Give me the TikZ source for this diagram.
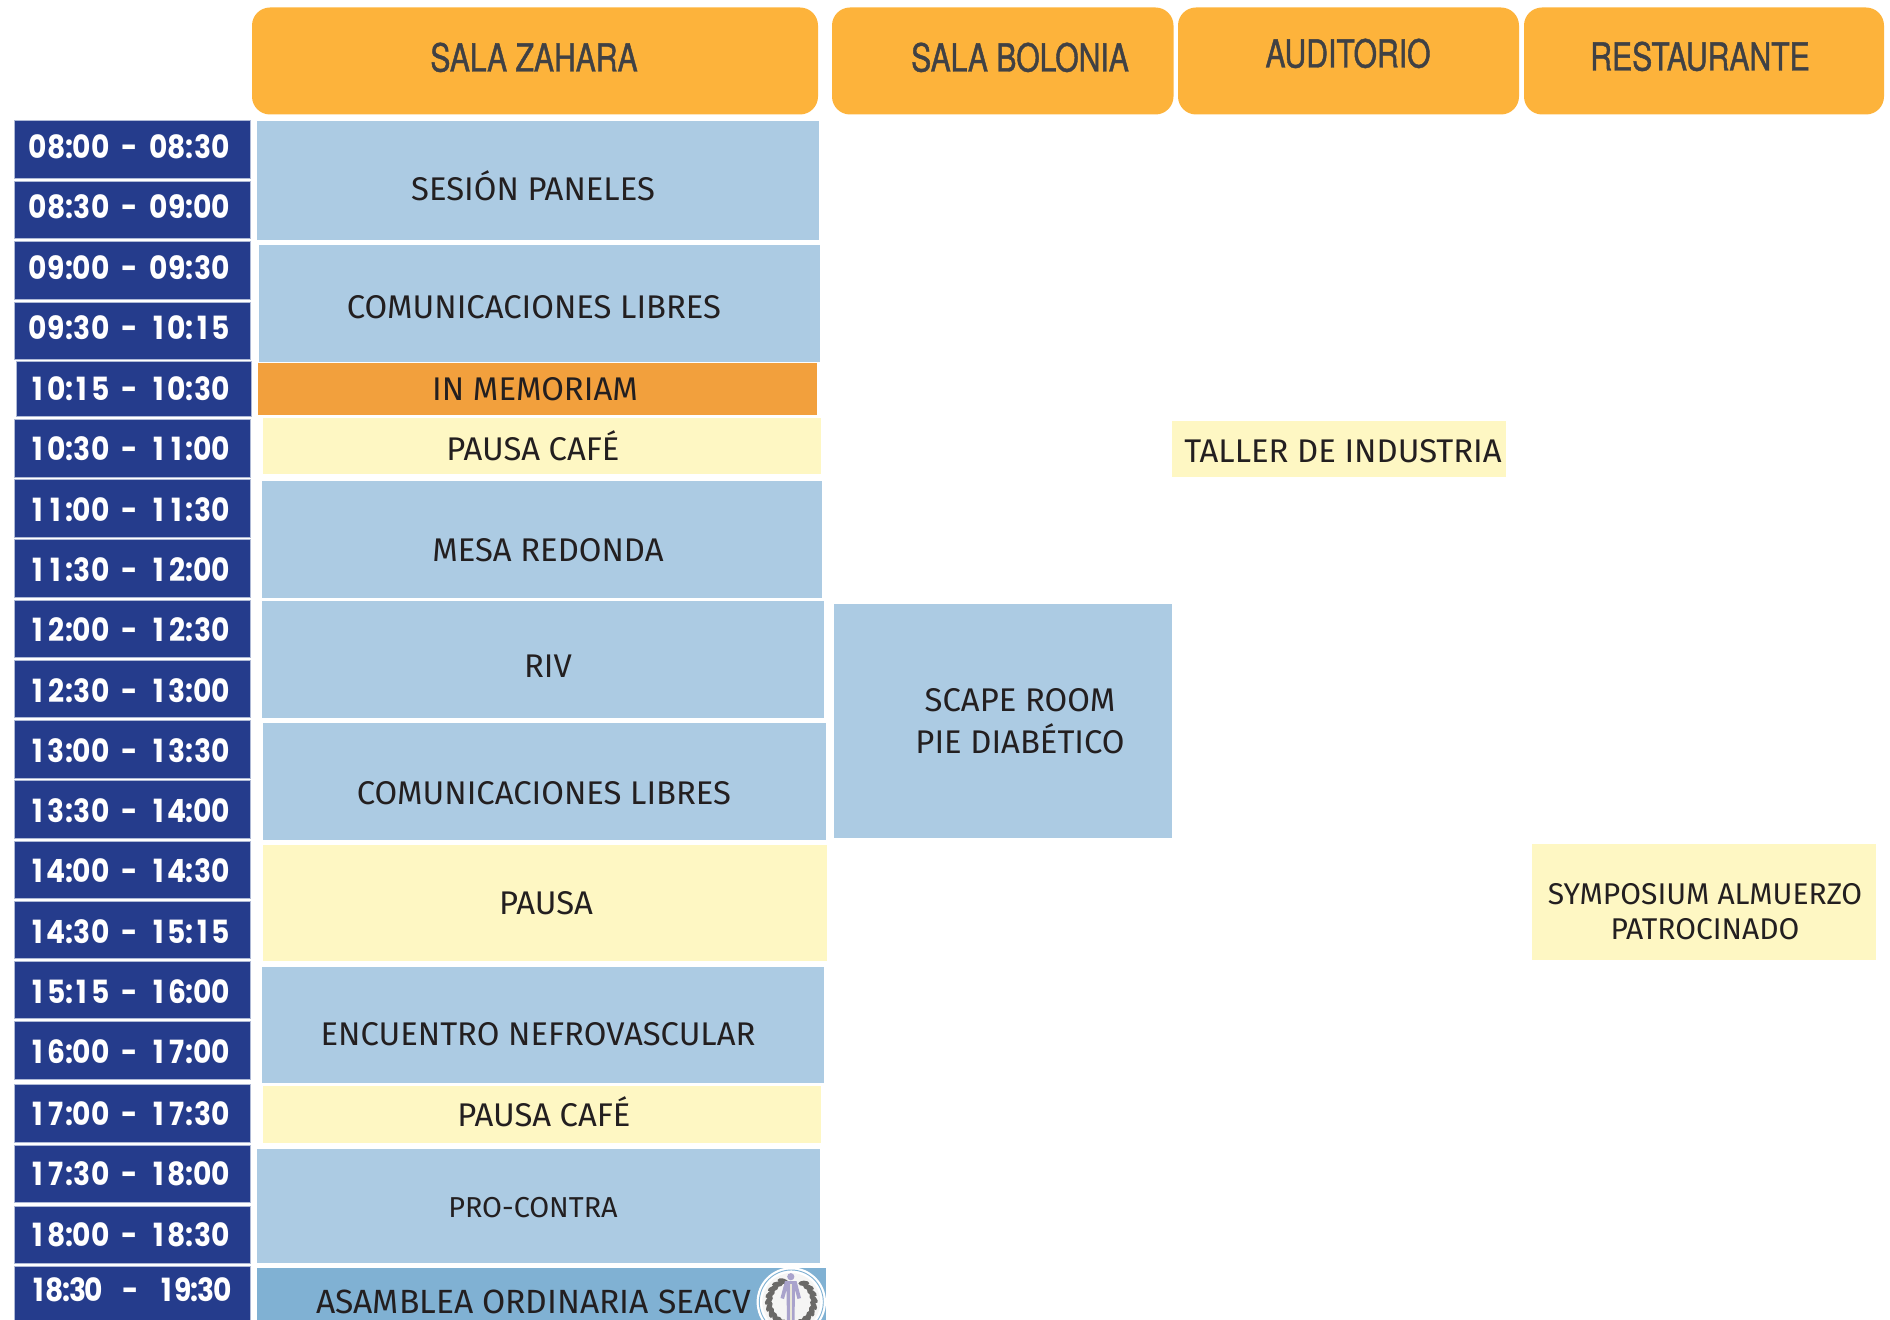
\documentclass[tikz,border=0pt]{standalone}
\usepackage{fontspec}
\setmainfont{Fira Sans}
\newfontfamily\hdfont[FakeStretch=0.78,FakeBold=1.1]{TeX Gyre Heros}
\newfontfamily\tmfont[FakeStretch=0.88,UprightFont=* Bold]{Poppins}
\definecolor{hdfill}{HTML}{FDB33B}
\definecolor{hdtext}{HTML}{404144}
\definecolor{tmfill}{HTML}{253C8C}
\definecolor{tmedge}{HTML}{AEB9D6}
\definecolor{bluefill}{HTML}{ACCBE3}
\definecolor{orangefill}{HTML}{F2A03D}
\definecolor{yellowfill}{HTML}{FEF7C3}
\definecolor{darkblue}{HTML}{80B1D3}
\definecolor{inktext}{HTML}{231F20}
\definecolor{leafgray}{HTML}{6A6967}
\definecolor{figlilac}{HTML}{A9A3CC}
\definecolor{figpale}{HTML}{E8E6D8}
\tikzset{
  boxbase/.style={inner sep=0pt,outer sep=0pt,anchor=north west},
  headbox/.style={boxbase,fill=hdfill,rounded corners=9pt},
  timebox/.style={boxbase,fill=tmfill,draw=tmedge,line width=.3pt},
  blueblock/.style={boxbase,fill=bluefill},
  orangeblock/.style={boxbase,fill=orangefill},
  yellowblock/.style={boxbase,fill=yellowfill},
  darkblock/.style={boxbase,fill=darkblue},
  headtext/.style={anchor=base,yshift=-6.75pt,text=hdtext,font=\hdfont\fontsize{19.3}{22}\selectfont,inner sep=0pt},
  labeltext/.style={anchor=base,yshift=-6.1pt,text=inktext,font=\fontsize{16.4}{19}\selectfont,inner sep=0pt},
  widetext/.style={labeltext,font=\fontsize{16.8}{19}\selectfont},
  smalltext/.style={anchor=base,yshift=-5pt,text=inktext,font=\fontsize{14.4}{17}\selectfont,inner sep=0pt},
  sympotext/.style={smalltext,font=\fontsize{15}{17}\selectfont},
  timetext/.style={anchor=base,yshift=-6.3pt,text=white,font=\tmfont\fontsize{16}{18}\selectfont,inner sep=0pt},
}
% name, x1, y1, x2, y2, style
\newcommand{\areabox}[6]{%
  \pgfmathsetmacro{\bw}{(#4-#2)*0.5}%
  \pgfmathsetmacro{\bh}{(#5-#3)*0.5}%
  \node[#6,minimum width=\bw pt,minimum height=\bh pt] (#1) at (#2,#3) {};}
% fixed-width digits for the time column
\newlength{\dgw}
\newcommand{\dg}[1]{\makebox[\dgw][c]{#1}}
\def\hhmm#1#2:#3#4!{\dg{#1}\dg{#2}\makebox[3.6pt][c]{:}\dg{#3}\dg{#4}}
\newcommand{\timerange}[3]{\setlength{\dgw}{#3}\expandafter\hhmm#1!\makebox[20pt][c]{-}\expandafter\hhmm#2!}
\begin{document}
\begin{tikzpicture}[x=0.5pt,y=-0.5pt]
\useasboundingbox (0,0) rectangle (1890,1320);
% headers
\areabox{hzahara}{252}{7.5}{818}{114.5}{headbox}
\areabox{hbolonia}{832}{7.5}{1173.5}{114.5}{headbox}
\areabox{hauditorio}{1178}{7.5}{1519}{114.5}{headbox}
\areabox{hrestaurante}{1524}{7.5}{1884}{114.5}{headbox}
\node[headtext] (tzahara) at (534,58) {SALA ZAHARA};
\node[headtext] (tbolonia) at (1020,58) {SALA BOLONIA};
\node[headtext] (tauditorio) at (1348,54) {AUDITORIO};
\node[headtext] (trestaurante) at (1700,57) {RESTAURANTE};
% time column: index/start/end/top/text centre/height/x offset
\foreach \i/\ta/\tb/\ty/\tc/\hh/\xo in {
  0/08:00/08:30/120.7/146/57.3/0,
  1/08:30/09:00/181/206/57.3/0,
  2/09:00/09:30/241.7/266.5/57.6/0,
  3/09:30/10:15/302.3/327/57.4/0,
  4/10:15/10:30/361.3/387.5/55/1.7,
  5/10:30/11:00/419.3/448/57.7/0,
  6/11:00/11:30/479.5/509/57.5/0,
  7/11:30/12:00/539.7/569/57.5/0,
  8/12:00/12:30/600/629/57.5/0,
  9/12:30/13:00/660.2/689.5/57.5/0,
  10/13:00/13:30/720.4/750/57.5/0,
  11/13:30/14:00/780.6/810/57.5/0,
  12/14:00/14:30/840.8/870/57.5/0,
  13/14:30/15:15/901/930.6/57.5/0,
  14/15:15/16:00/961.2/991/57.5/0,
  15/16:00/17:00/1021.3/1051/57.5/0,
  16/17:00/17:30/1084.5/1112.6/57.5/0,
  17/17:30/18:00/1145.7/1172.5/56.6/0,
  18/18:00/18:30/1206/1233.5/57/0}{
  \pgfmathsetmacro{\by}{\ty+\hh}
  \pgfmathsetmacro{\lx}{14.7+\xo}
  \pgfmathsetmacro{\rx}{250+\xo}
  \areabox{row\i}{\lx}{\ty}{\rx}{\by}{timebox}
  \node[timetext] (rowtext\i) at (129.5,\tc) {\timerange{\ta}{\tb}{9.2pt}};
}
\areabox{row19}{14.7}{1266.3}{250}{1322}{timebox}
\node[timetext] (rowtext19) at (130.5,1288.8) {\def\ta{18:30}\def\tb{19:30}\setlength{\dgw}{8pt}\expandafter\hhmm\ta!\makebox[28.5pt][c]{-}\expandafter\hhmm\tb!};
% blocks
\areabox{sesion}{257}{120.7}{818.5}{240}{blueblock}
\areabox{comuna}{259}{244.7}{820}{361.7}{blueblock}
\areabox{memoriam}{258}{362.7}{817}{414.7}{orangeblock}
\areabox{cafea}{262.7}{418}{821}{474}{yellowblock}
\areabox{mesa}{261.5}{481}{822}{598}{blueblock}
\areabox{riv}{261.5}{601.5}{824}{718}{blueblock}
\areabox{comunb}{263}{723}{825.5}{840}{blueblock}
\areabox{pausa}{263}{845}{826.5}{961}{yellowblock}
\areabox{encuentro}{261.5}{967}{824}{1082.5}{blueblock}
\areabox{cafeb}{263}{1086}{821}{1142.7}{yellowblock}
\areabox{procontra}{257}{1149}{819.5}{1262.7}{blueblock}
\areabox{asamblea}{257}{1268.3}{826}{1322}{darkblock}
\areabox{scape}{834}{604}{1172}{838}{blueblock}
\areabox{taller}{1172}{421}{1506}{477}{yellowblock}
\areabox{symposium}{1532}{844}{1876}{960}{yellowblock}
\node[labeltext] (tsesion) at (533,188) {SESIÓN PANELES};
\node[labeltext] (tcomuna) at (534,306) {COMUNICACIONES LIBRES};
\node[labeltext] (tmemoriam) at (535,388) {IN MEMORIAM};
\node[labeltext] (tcafea) at (533,448) {PAUSA CAFÉ};
\node[labeltext] (tmesa) at (548,549) {MESA REDONDA};
\node[labeltext] (triv) at (548,665) {RIV};
\node[labeltext] (tcomunb) at (544,792) {COMUNICACIONES LIBRES};
\node[labeltext] (tpausa) at (546,902) {PAUSA};
\node[labeltext] (tencuentro) at (538,1033) {ENCUENTRO NEFROVASCULAR};
\node[labeltext] (tcafeb) at (544,1114) {PAUSA CAFÉ};
\node[smalltext] (tprocontra) at (533,1207) {PRO-CONTRA};
\node[widetext] (tasamblea) at (533.5,1301) {ASAMBLEA ORDINARIA SEACV};
\node[labeltext] (tscapea) at (1020,699) {SCAPE ROOM};
\node[labeltext] (tscapeb) at (1020,741) {PIE DIABÉTICO};
\node[labeltext] (ttaller) at (1343,450) {TALLER DE INDUSTRIA};
\node[sympotext] (tsympa) at (1705,894) {SYMPOSIUM ALMUERZO};
\node[sympotext] (tsympb) at (1705,929) {PATROCINADO};
% logo
\begin{scope}
  \clip (750,1260) rectangle (840,1320);
  \fill[white] (791.3,1302) circle (34.7);
  \draw[darkblue,line width=.45pt] (791.3,1302) circle (32);
  \fill[white!93!leafgray] (791.3,1302) circle (29);
  \foreach \a in {112,128,...,430}{
    \pgfmathsetmacro{\px}{791.3+22.5*cos(\a)}
    \pgfmathsetmacro{\py}{1302-22.5*sin(\a)}
    \pgfmathsetmacro{\rt}{\a+90}
    \ifnum\a<270\relax\def\tl{-35}\else\def\tl{35}\fi
    \fill[leafgray,shift={(\px,\py)},rotate=\rt+\tl] (0,0) ellipse (5.5 and 2.7);
  }
  \fill[figlilac] (790.8,1276.7) circle (3.6);
  \fill[figlilac] (785,1281) -- (796.5,1281) -- (801,1298) -- (797.5,1299) -- (795,1290) -- (794.5,1322) -- (787,1322) -- (786.5,1290) -- (784,1299) -- (780.5,1298) -- cycle;
  \fill[figpale] (789.8,1284) rectangle (791.8,1322);
\end{scope}
\end{tikzpicture}
\end{document}
